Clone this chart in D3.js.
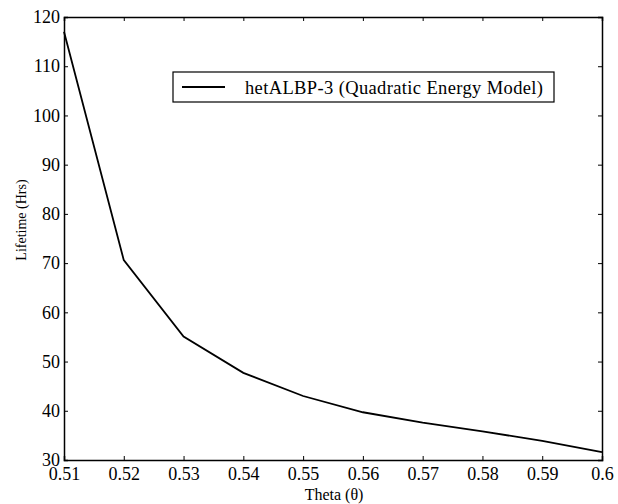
<!DOCTYPE html>
<html lang="en">
<head>
<meta charset="utf-8">
<script src="https://d3js.org/d3.v7.min.js"></script>
<style>
  body { margin: 0; background: #fff; }
  text { font-family: "Liberation Serif", "DejaVu Serif", serif; fill: #000; }
</style>
</head>
<body>
<script>
// data
var theta = [0.51, 0.52, 0.53, 0.54, 0.55, 0.56, 0.57, 0.58, 0.59, 0.60];
var lifetime = [117, 70.6, 55.1, 47.7, 43.0, 39.7, 37.6, 35.8, 33.9, 31.6];
var xTicks = [0.51, 0.52, 0.53, 0.54, 0.55, 0.56, 0.57, 0.58, 0.59, 0.6];
var yTicks = [30, 40, 50, 60, 70, 80, 90, 100, 110, 120];
var seriesName = "hetALBP-3 (Quadratic Energy Model)";

var width = 618, height = 504;
var margin = {top: 17, right: 16, bottom: 44, left: 64};
var iw = width - margin.left - margin.right,
    ih = height - margin.top - margin.bottom;

var serif = "'Liberation Serif', 'DejaVu Serif', serif";

var svg = d3.select("body").append("svg")
    .attr("width", width)
    .attr("height", height);

var g = svg.append("g")
    .attr("transform", "translate(" + margin.left + "," + margin.top + ")");

var x = d3.scaleLinear().domain([0.51, 0.6]).range([0, iw]);
var y = d3.scaleLinear().domain([30, 120]).range([ih, 0]);

var fmtX = function(d) { return String(+d.toFixed(2)); };

// axes, ticks pointing inward
g.append("g")
    .attr("transform", "translate(0," + ih + ")")
    .call(d3.axisBottom(x).tickValues(xTicks).tickSize(-4).tickPadding(4).tickFormat(fmtX))
    .call(function(a) { a.selectAll("text").attr("dy", "0.9em"); });

g.append("g")
    .call(d3.axisTop(x).tickValues(xTicks).tickSize(-4).tickFormat(""));

g.append("g")
    .call(d3.axisLeft(y).tickValues(yTicks).tickSize(-4).tickPadding(4));

g.append("g")
    .attr("transform", "translate(" + iw + ",0)")
    .call(d3.axisRight(y).tickValues(yTicks).tickSize(-4).tickFormat(""));

g.selectAll("g").attr("font-family", serif);
g.selectAll(".domain").attr("stroke", "#000").attr("stroke-width", 1.5);
g.selectAll(".tick line").attr("stroke", "#000");
g.selectAll(".tick text")
    .attr("font-family", serif)
    .style("font-family", serif)
    .style("font-size", "18px");

// line
var line = d3.line()
    .x(function(d, i) { return x(theta[i]); })
    .y(function(d) { return y(d); });

g.append("path")
    .datum(lifetime)
    .attr("fill", "none")
    .attr("stroke", "#000")
    .attr("stroke-width", 1.8)
    .attr("d", line);

// legend
var lg = g.append("g").attr("transform", "translate(109,55)");
lg.append("rect")
    .attr("width", 381).attr("height", 30)
    .attr("fill", "#fff").attr("stroke", "#000").attr("stroke-width", 1.2);
lg.append("line")
    .attr("x1", 9).attr("x2", 52).attr("y1", 15).attr("y2", 15)
    .attr("stroke", "#000").attr("stroke-width", 2);
lg.append("text")
    .attr("x", 72).attr("y", 22)
    .style("font-size", "18.5px")
    .attr("textLength", 298)
    .text(seriesName);

// axis titles
svg.append("text")
    .attr("x", 334).attr("y", 500)
    .attr("text-anchor", "middle")
    .style("font-size", "16px")
    .text("Theta (θ)");

svg.append("text")
    .attr("transform", "translate(26,220) rotate(-90)")
    .attr("text-anchor", "middle")
    .style("font-size", "14px")
    .text("Lifetime (Hrs)");
</script>
</body>
</html>
